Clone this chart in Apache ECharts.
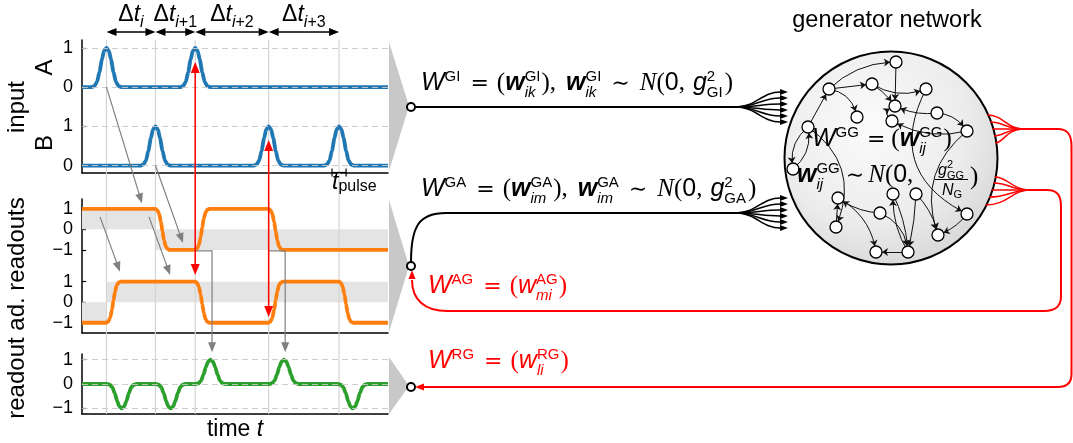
<!DOCTYPE html>
<html><head><meta charset="utf-8">
<script src="https://cdn.jsdelivr.net/npm/echarts@6/dist/echarts.min.js"></script>
<style>html,body{margin:0;padding:0;background:#fff}#c{width:1073px;height:443px}</style>
</head><body><div id="c"></div>
<script>
// ================= DATA =================
const pulseTimes = [8, 24, 37, 61, 84];
const inputATimes = [8, 37];
const inputBTimes = [24, 61, 84];
const pulseShape = [[-4.8,0],[-3.9,0.03],[-3.1,0.13],[-2.3,0.38],[-1.5,0.7],[-0.8,0.92],[0,1],[0.8,0.92],[1.5,0.7],[2.3,0.38],[3.1,0.13],[3.9,0.03],[4.8,0]];
const stepShape = [[0,0],[0.6,0.03],[1.2,0.12],[1.8,0.32],[2.3,0.55],[2.8,0.76],[3.4,0.92],[4,0.98],[4.6,1]];
const readoutTopStart = 1;
const readoutTopSteps = [[24,-1],[37,1],[61,-1]];
const readoutBotStart = -1;
const readoutBotSteps = [[8,1],[37,-1],[61,1],[84,-1]];
const outTimes = [13, 29, 42, 66, 88.5];
const outAmps = [-1, -1, 1, 1, -1];
const bandTop = [[0,24,0,1],[24,100,-1,0]];
const bandBot = [[0,8,-1,0],[8,100,0,1]];
const tPulseWidth = 4.6;
const offsetA = 2;
const offsetTop = 3.55;
const inputTickVals = [0,1,2,3];
const inputTickLabels = ['0','1','0','1'];
const readTickVals = [-1,0,1,2.55,3.55,4.55];
const readTickLabels = ['\u22121','0','1','\u22121','0','1'];
const outTickVals = [-1,0,1];
const outTickLabels = ['\u22121','0','1'];
const dtLabels = [['i',''],['i','+1'],['i','+2'],['i','+3']];
// generator network (node positions, links: [source, target, curveness])
const netNodes = [[896,62],[829,89],[872,84],[926,89],[895,106],[857,117],[937,113],[892,121],[808,127],[967,131],[793,169],[838,198],[893,194],[916,194],[880,213],[967,214],[836,227],[938,235],[876,252],[908,252]];
const netLinks = [[2,1,0.2],[2,3,0],[3,4,-0.25],[1,5,0],[3,5,0.1],[4,4,0.5],[6,6,0.5],[2,6,0.35],[7,5,0.15],[10,8,0.2],[8,5,0.9],[9,2,0],[11,9,-0.3],[9,11,-0.3],[9,17,0.4],[17,12,0],[15,12,0.15],[12,19,0.25],[20,19,0],[13,20,0.1],[20,13,0.15],[15,20,0.3],[14,20,0.05],[14,18,0.15],[16,18,0.15],[10,18,-0.35],[4,16,-0.5],[7,10,0.25]];

// ================= BUILDERS =================
function buildPulses(times, amps, base){
  const d=[[0,base]];
  times.forEach((t,i)=>pulseShape.forEach(([o,f])=>d.push([t+o, base+amps[i]*f])));
  d.push([100,base]); return d;
}
function buildSteps(start, steps, base){
  const d=[[0,base+start]]; let cur=start;
  steps.forEach(([t,nv])=>{ stepShape.forEach(([o,f])=>d.push([t+o, base+cur+(nv-cur)*f])); cur=nv; });
  d.push([100, base+cur]); return d;
}
const SANS='"Liberation Sans", Arial, Helvetica, sans-serif';
const SERIF='"Liberation Serif", "DejaVu Serif", serif';
const DSERIF='"DejaVu Serif", "Liberation Serif", serif';
const BLUE='#1f77b4', ORANGE='#ff7f0e', GREEN='#2ca02c', RED='#ff0000', GRAY='#808080';

function yAx(gi, min, max, vals, labels){
  return {type:'value', gridIndex:gi, min, max,
    axisLine:{show:true,onZero:false,lineStyle:{color:'#000',width:1.5}},
    axisTick:{show:true,inside:true,length:4,customValues:vals,lineStyle:{color:'#000',width:1.2}},
    axisLabel:{show:true,customValues:vals,margin:9,color:'#000',fontSize:18,fontFamily:SANS,
      formatter:v=>{const i=vals.findIndex(x=>Math.abs(x-v)<1e-6);return i>=0?labels[i]:'';}},
    splitLine:{show:false}};
}
function xAx(gi, show){
  return {type:'value', gridIndex:gi, min:0, max:100, show:true,
    axisLine:{show:show,onZero:false,lineStyle:{color:'#000',width:1.5}},
    axisTick:{show:false}, axisLabel:{show:false}, splitLine:{show:false}};
}
const dashML = vals => ({silent:true, symbol:'none', label:{show:false}, animation:false,
  lineStyle:{color:'rgba(200,200,200,0.9)', type:[6,4], width:1.2},
  data: vals.map(v=>({yAxis:v}))});
const bandMA = (bands, off) => ({silent:true, itemStyle:{color:'#e4e4e4'}, animation:false,
  data: bands.map(b=>[{xAxis:b[0], yAxis:b[2]+off},{xAxis:b[1], yAxis:b[3]+off}])});
const lineS = (xi, data, color, extra) => Object.assign({type:'line', xAxisIndex:xi, yAxisIndex:xi, data,
  showSymbol:false, symbol:'none', smooth:0.2, smoothMonotone:'x', lineStyle:{color, width:3.8}, z:3, silent:true}, extra||{});

const option = {
  animation:false, backgroundColor:'#fff',
  grid:[
    {left:82, top:40, width:306, height:133},
    {left:82, top:199, width:306, height:134},
    {left:82, top:354, width:306, height:60},
    {left:82, top:40, width:306, height:374},
    {left:0, top:0, width:1073, height:443}
  ],
  xAxis:[xAx(0,true), xAx(1,true), xAx(2,true), xAx(3,false),
    {type:'value', gridIndex:4, min:0, max:1073, show:false}],
  yAxis:[
    yAx(0,-0.19,3.2,inputTickVals,inputTickLabels),
    yAx(1,-1.5,5.03,readTickVals,readTickLabels),
    yAx(2,-1.23,1.23,outTickVals,outTickLabels),
    {type:'value', gridIndex:3, min:0, max:1, show:false},
    {type:'value', gridIndex:4, min:0, max:443, inverse:true, show:false}
  ],
  series:[
    ...pulseTimes.map(t=>({type:'line', xAxisIndex:3, yAxisIndex:3, data:[[t,0],[t,1]], showSymbol:false, symbol:'none',
      lineStyle:{color:'#d4d4d4', width:1.2}, z:1, silent:true})),
    lineS(0, buildPulses(inputATimes, inputATimes.map(()=>1), offsetA), BLUE),
    lineS(0, buildPulses(inputBTimes, inputBTimes.map(()=>1), 0), BLUE, {markLine:dashML(inputTickVals)}),
    lineS(1, buildSteps(readoutTopStart, readoutTopSteps, offsetTop), ORANGE, {markArea:bandMA(bandTop, offsetTop)}),
    lineS(1, buildSteps(readoutBotStart, readoutBotSteps, 0), ORANGE, {markArea:bandMA(bandBot, 0)}),
    lineS(2, buildPulses(outTimes, outAmps, 0), GREEN, {markLine:dashML(outTickVals)}),
    {type:'graph', coordinateSystem:'cartesian2d', xAxisIndex:4, yAxisIndex:4, layout:'none',
      data: netNodes.map(p=>({value:p})),
      links: netLinks.map(([s,t,c])=>({source:s-1, target:t-1, lineStyle:{curveness:c}})),
      symbol:'circle', symbolSize:12, z:3, silent:true,
      itemStyle:{color:'#fff', borderColor:'#000', borderWidth:1.3},
      lineStyle:{color:'#111', width:1, opacity:1},
      edgeSymbol:['none','arrow'], edgeSymbolSize:[0,6],
      label:{show:false}, emphasis:{disabled:true}}
  ]
};

const chart = echarts.init(document.getElementById('c'), null, {renderer:'canvas'});
chart.setOption(option);

// ================= ANNOTATIONS =================
const X = t => chart.convertToPixel({xAxisIndex:0}, t);
const Y0 = v => chart.convertToPixel({yAxisIndex:0}, v);
const Y1 = v => chart.convertToPixel({yAxisIndex:1}, v);
const Y2 = v => chart.convertToPixel({yAxisIndex:2}, v);

const mctx = document.createElement('canvas').getContext('2d');
function fnt(tk, sz){ return (tk.it?'italic ':'')+(tk.b?'bold ':'')+sz+'px '+(tk.ff||SANS); }
function math(tokens, x0, base, color, align, z, defSz){
  defSz = defSz||25;
  let x=0, segStart=0, segW=0; const items=[];
  for(const tk of tokens){
    if(tk.gap!==undefined){ x+=tk.gap; continue; }
    const sz=tk.sz||defSz; const f=fnt(tk,sz);
    mctx.font=f; const w=mctx.measureText(tk.t).width;
    let tx;
    if(tk.stack){ tx=segStart; const end=Math.max(segStart+segW, segStart+w); x=end; segW=end-segStart; }
    else { tx=x; segStart=x; segW=w; x+=w; }
    items.push({tx,tk,f,sz});
  }
  const off = align==='center' ? x0-x/2 : x0;
  return items.map(it=>({type:'text', z:z||10, x:off+it.tx, y:base+(it.tk.dy||0)-0.35*it.sz, silent:true,
    style:{text:it.tk.t, font:it.f, fill:color, align:'left', verticalAlign:'middle'}}));
}
const T=(t,o)=>Object.assign({t},o||{});
const sup=(t,sz,dy)=>({t, sz:sz||15, dy:dy||-10});
const sub=(t,it,sz,dy)=>({t, sz:sz||15, dy:dy||6, it:it!==false, stack:true});
const SE=t=>({t, ff:SERIF});
const OP=t=>({t, ff:DSERIF, sz:22});
const G=n=>({gap:n});
const CAL=()=>({t:'N', it:true, ff:SERIF});

function head(x,y,ang,len,hw,color,z){
  const c=Math.cos(ang), s=Math.sin(ang); const bx=x-len*c, by=y-len*s;
  return {type:'polygon', z:z||10, silent:true, shape:{points:[[x,y],[bx-hw*s,by+hw*c],[bx+hw*s,by-hw*c]]}, style:{fill:color}};
}
function pl(points,color,w,z){ return {type:'polyline', z:z||10, silent:true, shape:{points}, style:{stroke:color,lineWidth:w,fill:null}}; }
// simple path: M / L / C commands -> polyline + bezierCurve elements
function pth(d,color,w,z){
  const tk=d.match(/[MLC]|-?[\d.]+/g); const out=[]; let i=0, cx=0, cy=0, cmd='M';
  const num=()=>parseFloat(tk[i++]);
  while(i<tk.length){
    if(/[MLC]/.test(tk[i])) cmd=tk[i++];
    if(cmd==='M'){ cx=num(); cy=num(); cmd='L'; }
    else if(cmd==='L'){ const x=num(), y=num(); out.push(pl([[cx,cy],[x,y]],color,w,z)); cx=x; cy=y; }
    else if(cmd==='C'){ const a=num(),b=num(),c=num(),e=num(),x=num(),y=num();
      out.push({type:'bezierCurve', z:z||10, silent:true, shape:{x1:cx,y1:cy,cpx1:a,cpy1:b,cpx2:c,cpy2:e,x2:x,y2:y}, style:{stroke:color,lineWidth:w,fill:null}});
      cx=x; cy=y; }
  }
  return out;
}
function arrow(p1,p2,color,w,len,hw){
  const a=Math.atan2(p2[1]-p1[1],p2[0]-p1[0]);
  const e=[p2[0]-len*0.8*Math.cos(a), p2[1]-len*0.8*Math.sin(a)];
  return [pl([p1,e],color,w), head(p2[0],p2[1],a,len,hw,color)];
}
function txt(t,x,y,size,opts){
  return Object.assign({type:'text', z:10, x, y, silent:true,
    style:{text:t, font:size+'px '+SANS, fill:'#000', align:'center', verticalAlign:'middle'}}, opts||{});
}

const G_ = [];
// Delta t arrows
for(let i=0;i<4;i++){
  const x1=X(pulseTimes[i]), x2=X(pulseTimes[i+1]), y=32;
  G_.push(pl([[x1+6,y],[x2-6,y]],'#000',1.5));
  G_.push(head(x1,y,Math.PI,10,4,'#000'), head(x2,y,0,10,4,'#000'));
  const toks=[T('\u0394',{sz:23}),T('t',{it:true,sz:23}),{t:dtLabels[i][0],sz:16,dy:5,it:true}];
  if(dtLabels[i][1]) toks.push({t:dtLabels[i][1],sz:16,dy:5});
  G_.push(...math(toks, (x1+x2)/2, 23, '#000','center'));
}
// t_pulse bracket
{
  const xa=X(pulseTimes[4]-tPulseWidth/2), xb=X(pulseTimes[4]+tPulseWidth/2), y=172.5;
  G_.push(pl([[xa,y],[xb,y]],'#000',1.2), pl([[xa,y-4],[xa,y+4]],'#000',1.2), pl([[xb,y-4],[xb,y+4]],'#000',1.2));
  G_.push(...math([T('t',{it:true,sz:23}),{t:'pulse',sz:16,dy:1}], 332, 191, '#000'));
}
// Axis titles
G_.push(txt('input',17,107,24,{rotation:Math.PI/2}));
G_.push(txt('A',45,Y0(2.5),24,{rotation:Math.PI/2}));
G_.push(txt('B',45,Y0(0.5)-3,24,{rotation:Math.PI/2}));
G_.push(txt('readout ad. readouts',17,308,24,{rotation:Math.PI/2}));
G_.push(...math([T('time '),T('t',{it:true})], 235, 438, '#000', 'center', 10, 23));

// gray annotation arrows
G_.push(...arrow([X(8),Y0(2)],[X(19.6),Y1(4.82)],GRAY,1.2,10,4));
G_.push(...arrow([X(24),Y0(0)],[X(33),Y1(2.89)],GRAY,1.2,10,4));
G_.push(...arrow([X(5.9),Y1(4.16)],[X(12.4),Y1(1.49)],GRAY,1.2,10,4));
G_.push(...arrow([X(21.9),Y1(4.16)],[X(28.8),Y1(1.33)],GRAY,1.2,10,4));
[[37,42.5],[61,66.4]].forEach(([a,b])=>{
  const yy=Y1(offsetTop-1)+1;
  G_.push(pl([[X(a),yy],[X(b),yy],[X(b),Y2(1.3)-8]],GRAY,1.2));
  G_.push(head(X(b),Y2(1.3),Math.PI/2,10,4,GRAY));
});
// red double arrows
[[37,1.33,2.64],[61,-0.72,0.65]].forEach(([t,vb,vt])=>{
  const x=X(t), yb=Y1(vb), yt=Y0(vt);
  G_.push(pl([[x,yt+8],[x,yb-8]],RED,1.5));
  G_.push(head(x,yt,-Math.PI/2,11,4.5,RED), head(x,yb,Math.PI/2,11,4.5,RED));
});

// ---------- diagram ----------
const TRI='#c8c8c8';
G_.push({type:'polygon',z:4,silent:true,shape:{points:[[389,42],[389,171],[409,106]]},style:{fill:TRI}});
G_.push({type:'polygon',z:4,silent:true,shape:{points:[[389,200],[389,332],[409,266]]},style:{fill:TRI}});
G_.push({type:'polygon',z:4,silent:true,shape:{points:[[389,357],[389,414],[409,386]]},style:{fill:TRI}});
// big circle
G_.push({type:'circle',z:1,silent:true,shape:{cx:891,cy:158,r:106.5},
  style:{stroke:'#000',lineWidth:2,fill:new echarts.graphic.RadialGradient(0.4,0.35,0.75,[{offset:0,color:'#fbfbfb'},{offset:0.6,color:'#ececec'},{offset:1,color:'#d2d2d2'}])}});
G_.push(txt('generator network',887,21,23.5));
// black connections
G_.push(...pth('M415,107 L738,107','#000',2));
[92,98,104,110,116,122].forEach(y=>{
  G_.push(...pth(`M736,107 C756,107 762,${y} 780,${y}`,'#000',1.5));
  G_.push(head(788,y,0,8,3,'#000'));
});
G_.push(...pth('M411,262 C411,226 419,213 446,213 L738,213','#000',2));
[198,204,210,216,222,228].forEach(y=>{
  G_.push(...pth(`M736,213 C756,213 762,${y} 780,${y}`,'#000',1.5));
  G_.push(head(788,y,0,8,3,'#000'));
});
// red connections
const edgeX = y => 891+Math.sqrt(106.5*106.5-(y-158)*(y-158));
[177,183,190,197,205].forEach(y=>{
  G_.push(...pth(`M${edgeX(y)-1},${y} C1008,${y} 1012,190 1030,190`,RED,1.5,2));
});
G_.push(...pth('M1030,190 L1047,190 C1058,190 1061,196 1061,207 L1061,296 C1061,307 1055,311 1044,311 L447,311 C425,311 412,300 412,280',RED,2));
G_.push(head(412,270,-Math.PI/2,9,3.5,RED));
[115,122,129,136,143].forEach(y=>{
  G_.push(...pth(`M${edgeX(y)-1},${y} C1003,${y} 1007,129 1023,129`,RED,1.5,2));
});
G_.push(...pth('M1023,129 L1058,129 C1068,129 1071.5,135 1071.5,146 L1071.5,374 C1071.5,383 1067,387 1058,387 L424,387',RED,2));
G_.push(head(415,387,Math.PI,9,3.5,RED));
// small node circles
[107,266,387].forEach(y=>G_.push({type:'circle',z:11,silent:true,shape:{cx:411,cy:y,r:4},style:{fill:'#fff',stroke:'#000',lineWidth:2}}));

// formulas
const W=T('W',{it:true}), wb=T('w',{it:true,b:true});
G_.push(...math([W,sup('GI'),G(10),OP('='),G(8),SE('('),wb,sup('GI'),sub('ik'),G(1),SE(')'),SE(','),G(10),wb,sup('GI'),sub('ik'),G(10),OP('\u223C'),G(10),CAL(),SE('('),T('0'),SE(','),G(8),T('g',{it:true}),sup('2'),sub('GI',false),G(2),SE(')')], 421, 92, '#000'));
G_.push(...math([W,sup('GA'),G(10),OP('='),G(8),SE('('),wb,sup('GA'),sub('im'),G(1),SE(')'),SE(','),G(10),wb,sup('GA'),sub('im'),G(10),OP('\u223C'),G(10),CAL(),SE('('),T('0'),SE(','),G(8),T('g',{it:true}),sup('2'),sub('GA',false),G(2),SE(')')], 421, 198, '#000'));
G_.push(...math([W,sup('AG'),G(10),OP('='),G(8),SE('('),T('w',{it:true}),sup('AG'),sub('mi'),G(1),SE(')')], 428, 295, RED));
G_.push(...math([W,sup('RG'),G(10),OP('='),G(8),SE('('),T('w',{it:true}),sup('RG'),sub('li'),G(1),SE(')')], 428, 370, RED));
G_.push(...math([W,sup('GG'),G(8),OP('='),G(6),SE('('),wb,sup('GG'),sub('ij'),G(1),SE(')')], 812, 148, '#000'));
G_.push(...math([wb,sup('GG'),sub('ij'),G(6),OP('\u223C'),G(4),CAL(),SE('('),T('0'),SE(',')], 797, 184, '#000'));
G_.push(...math([T('g',{it:true,sz:16}),sup('2',11,-7),sub('GG',false,11,4)], 951, 176, '#000', 'center'));
G_.push(pl([[935,179.5],[968,179.5]],'#000',1));
G_.push(...math([T('N',{it:true,sz:16}),{t:'G',sz:11,dy:3}], 952, 196, '#000', 'center'));
G_.push(...math([SE(')')], 970, 186, '#000'));

chart.setOption({graphic:{elements:G_}});
</script>
</body></html>
